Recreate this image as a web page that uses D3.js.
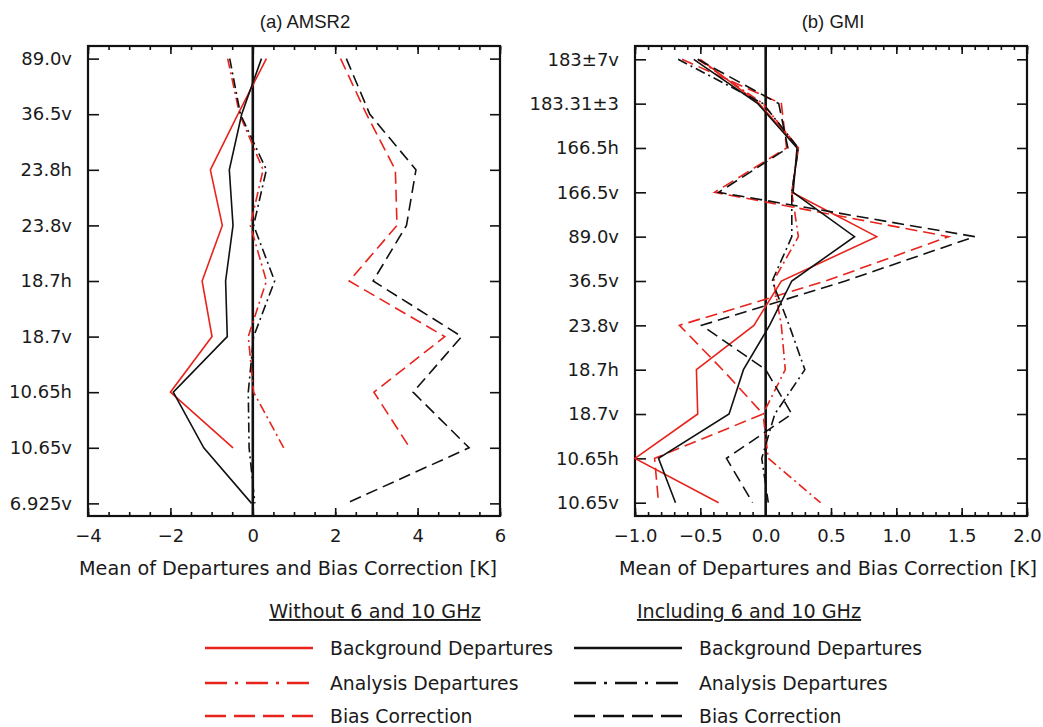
<!DOCTYPE html>
<html>
<head>
<meta charset="utf-8">
<script src="https://cdn.jsdelivr.net/npm/d3@7"></script>
<style>
  html, body { margin: 0; padding: 0; background: #fff; }
  svg { display: block; }
  text { fill: #1a1a1a; }
</style>
</head>
<body>
<svg id="chart" width="1043" height="727"></svg>
<script>
// ---------------- DATA ----------------
const amsr2Channels = ["89.0v","36.5v","23.8h","23.8v","18.7h","18.7v","10.65h","10.65v","6.925v"];
// Without 6 and 10 GHz (red)
const amsr2BgWithout  = [0.33,-0.36,-1.03,-0.74,-1.23,-0.99,-2.00,-0.48,null];
const amsr2AnWithout  = [-0.61,-0.32,0.25,-0.06,0.33,-0.11,0.02,0.75,null];
const amsr2BcWithout  = [2.13,2.76,3.46,3.50,2.34,4.66,2.94,3.81,null];
// Including 6 and 10 GHz (black)
const amsr2BgIncl     = [0.21,-0.27,-0.57,-0.48,-0.66,-0.62,-1.93,-1.19,-0.03];
const amsr2AnIncl     = [-0.56,-0.30,0.33,0.02,0.53,0.02,-0.11,-0.09,0.05];
const amsr2BcIncl     = [2.27,2.84,3.96,3.73,2.92,5.07,3.89,5.25,2.27];

const gmiChannels = ["183±7v","183.31±3","166.5h","166.5v","89.0v","36.5v","23.8v","18.7h","18.7v","10.65h","10.65v"];
const gmiBgWithout = [-0.50,-0.05,0.25,0.20,0.85,0.12,-0.09,-0.53,-0.52,-1.00,-0.36];
const gmiAnWithout = [-0.52,-0.02,0.25,0.20,0.25,0.06,0.12,0.15,-0.02,0.02,0.42];
const gmiBcWithout = [-0.64,0.12,0.16,-0.39,1.40,0.46,-0.66,-0.33,-0.02,-0.85,-0.82];
const gmiBgIncl    = [-0.55,-0.06,0.24,0.21,0.68,0.20,0.03,-0.17,-0.28,-0.82,-0.69];
const gmiAnIncl    = [-0.67,-0.02,0.25,0.20,0.20,0.05,0.18,0.30,0.07,-0.03,0.02];
const gmiBcIncl    = [-0.52,0.10,0.17,-0.36,1.60,0.61,-0.49,0.00,0.20,-0.30,-0.10];

const amsr2XTicks = [-4,-2,0,2,4,6];
const gmiXTicks = [-1.0,-0.5,0.0,0.5,1.0,1.5,2.0];

const panelTitles = ["(a) AMSR2", "(b) GMI"];
const axisTitle = "Mean of Departures and Bias Correction [K]";
const legendHeaders = ["Without 6 and 10 GHz", "Including 6 and 10 GHz"];
const legendLabels = ["Background Departures", "Analysis Departures", "Bias Correction"];

// ---------------- STYLE ----------------
const RED = "#e8231c", BLACK = "#111";
const styles = {
  bg: null,
  an: "10,4,2,4",
  bc: "12,6"
};
const svg = d3.select("#chart");
const TICKFONT = "DejaVu Sans, Verdana, sans-serif";

function panel(cfg) {
  const g = svg.append("g");
  const x = d3.scaleLinear().domain(cfg.xDomain).range([cfg.left, cfg.right]);
  const y = d3.scalePoint().domain(cfg.cats).range([cfg.top, cfg.bottom]).padding(cfg.pad);

  // minor ticks (top & bottom)
  const minor = d3.range(cfg.xDomain[0], cfg.xDomain[1] + 1e-9, cfg.minorStep);
  const minorBottom = d3.axisBottom(x).tickValues(minor).tickSize(-4).tickFormat("");
  const minorTop = d3.axisTop(x).tickValues(minor).tickSize(-4).tickFormat("");
  g.append("g").attr("transform", `translate(0,${cfg.bottom})`).call(minorBottom);
  g.append("g").attr("transform", `translate(0,${cfg.top})`).call(minorTop);

  // major ticks
  const fmt = cfg.fmt;
  const bottomAx = d3.axisBottom(x).tickValues(cfg.xTicks).tickSize(-8).tickPadding(13).tickFormat(fmt);
  const topAx = d3.axisTop(x).tickValues(cfg.xTicks).tickSize(-8).tickFormat("");
  g.append("g").attr("class","xb").attr("transform", `translate(0,${cfg.bottom})`).call(bottomAx);
  g.append("g").attr("transform", `translate(0,${cfg.top})`).call(topAx);

  const leftAx = d3.axisLeft(y).tickSize(-11).tickPadding(16);
  const rightAx = d3.axisRight(y).tickSize(-10).tickFormat("");
  g.append("g").attr("class","yl").attr("transform", `translate(${cfg.left},0)`).call(leftAx);
  g.append("g").attr("transform", `translate(${cfg.right},0)`).call(rightAx);

  g.selectAll(".domain").remove();
  g.selectAll(".tick line").attr("stroke", BLACK).attr("stroke-width", 1.6);
  g.selectAll(".tick text").attr("font-family", TICKFONT).attr("font-size", 18).attr("fill", "#1a1a1a");

  // frame
  g.append("rect").attr("x", cfg.left).attr("y", cfg.top)
    .attr("width", cfg.right - cfg.left).attr("height", cfg.bottom - cfg.top)
    .attr("fill", "none").attr("stroke", BLACK).attr("stroke-width", 2.2);

  // zero line
  g.append("line").attr("x1", x(0)).attr("x2", x(0)).attr("y1", cfg.top).attr("y2", cfg.bottom)
    .attr("stroke", BLACK).attr("stroke-width", 2.6);

  // series
  const line = d3.line()
    .defined(d => d.v != null)
    .x(d => x(d.v)).y(d => y(d.c));
  cfg.series.forEach(s => {
    const pts = cfg.cats.map((c, i) => ({c, v: s.values[i]}));
    g.append("path").attr("d", line(pts))
      .attr("fill", "none").attr("stroke", s.color).attr("stroke-width", 1.6)
      .attr("stroke-dasharray", styles[s.kind]).attr("stroke-linejoin", "miter");
  });

  // title
  g.append("text").attr("x", cfg.titleX).attr("y", 28).attr("text-anchor", "middle")
    .attr("font-family", "Liberation Sans, Arial, sans-serif").attr("font-size", 18.5)
    .text(cfg.title);
  // x axis title
  g.append("text").attr("x", cfg.axisTitleX).attr("y", 575).attr("text-anchor", "middle")
    .attr("font-family", TICKFONT).attr("font-size", 19.2)
    .text(axisTitle);
}

panel({
  left: 88, right: 500, top: 46, bottom: 516, pad: 0.227,
  xDomain: [-4, 6], xTicks: amsr2XTicks, minorStep: 0.5, fmt: d3.format("d"),
  cats: amsr2Channels, title: panelTitles[0], titleX: 305, axisTitleX: 288,
  series: [
    {values: amsr2BgWithout, color: RED, kind: "bg"},
    {values: amsr2AnWithout, color: RED, kind: "an"},
    {values: amsr2BcWithout, color: RED, kind: "bc"},
    {values: amsr2BgIncl, color: BLACK, kind: "bg"},
    {values: amsr2AnIncl, color: BLACK, kind: "an"},
    {values: amsr2BcIncl, color: BLACK, kind: "bc"}
  ]
});

panel({
  left: 635, right: 1027, top: 46, bottom: 516, pad: 0.3,
  xDomain: [-1, 2], xTicks: gmiXTicks, minorStep: 0.1, fmt: d3.format(".1f"),
  cats: gmiChannels, title: panelTitles[1], titleX: 833, axisTitleX: 828,
  series: [
    {values: gmiBgWithout, color: RED, kind: "bg"},
    {values: gmiAnWithout, color: RED, kind: "an"},
    {values: gmiBcWithout, color: RED, kind: "bc"},
    {values: gmiBgIncl, color: BLACK, kind: "bg"},
    {values: gmiAnIncl, color: BLACK, kind: "an"},
    {values: gmiBcIncl, color: BLACK, kind: "bc"}
  ]
});

// ---------------- LEGEND ----------------
const leg = svg.append("g");
const legDash = {bg: null, an: "22,8,3,8", bc: "21,8"};
const legKinds = ["bg","an","bc"];
const legCols = [
  {lineX: 205, textX: 330, headerX: 375, color: RED},
  {lineX: 574, textX: 699, headerX: 749, color: BLACK}
];
const rowY = [648, 683, 716];
legCols.forEach((col, ci) => {
  leg.append("text").attr("x", col.headerX).attr("y", 618).attr("text-anchor", "middle")
    .attr("font-family", TICKFONT).attr("font-size", 19.2).attr("text-decoration", "underline")
    .text(legendHeaders[ci]);
  legendLabels.forEach((lab, ri) => {
    leg.append("line").attr("x1", col.lineX).attr("x2", col.lineX + 108)
      .attr("y1", rowY[ri]).attr("y2", rowY[ri])
      .attr("stroke", col.color).attr("stroke-width", 2.6)
      .attr("stroke-dasharray", legDash[legKinds[ri]]);
    leg.append("text").attr("x", col.textX).attr("y", rowY[ri] + 7)
      .attr("font-family", TICKFONT).attr("font-size", 18.8)
      .text(lab);
  });
});
</script>
</body>
</html>
